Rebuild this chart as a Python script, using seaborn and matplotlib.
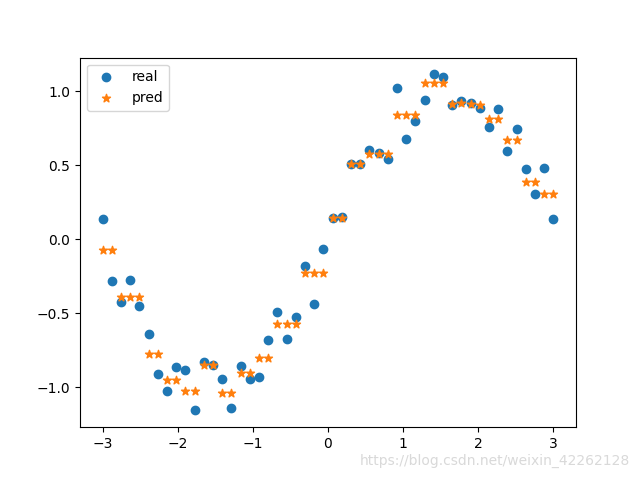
import numpy as np
import pandas as pd
import matplotlib
matplotlib.use("Agg")
import matplotlib.pyplot as plt
import seaborn as sns

x_vals = np.linspace(-3, 3, 50)

real = [0.14, -0.284, -0.42, -0.277, -0.453, -0.642, -0.912, -1.027, -0.865, -0.88,
        -1.155, -0.831, -0.851, -0.946, -1.142, -0.857, -0.942, -0.926, -0.682, -0.493,
        -0.676, -0.527, -0.182, -0.433, -0.062, 0.144, 0.15, 0.513, 0.509, 0.606,
        0.581, 0.545, 1.025, 0.68, 0.802, 0.939, 1.115, 1.10, 0.905, 0.932,
        0.925, 0.885, 0.757, 0.878, 0.60, 0.743, 0.473, 0.304, 0.48, 0.14]

pred = [-0.07, -0.07, -0.387, -0.387, -0.387, -0.777, -0.777, -0.948, -0.948, -1.022,
        -1.022, -0.845, -0.845, -1.04, -1.04, -0.899, -0.899, -0.804, -0.804, -0.568,
        -0.568, -0.568, -0.23, -0.23, -0.23, 0.147, 0.147, 0.511, 0.511, 0.574,
        0.574, 0.574, 0.838, 0.838, 0.838, 1.054, 1.054, 1.054, 0.918, 0.92,
        0.918, 0.91, 0.815, 0.815, 0.673, 0.673, 0.387, 0.387, 0.309, 0.309]

df = pd.DataFrame({"x": x_vals, "real": real, "pred": pred})

fig, ax = plt.subplots(figsize=(6.4, 4.8), dpi=100)
sns.scatterplot(data=df, x="x", y="real", ax=ax, color="C0", s=36, linewidth=1,
                edgecolor="C0", marker="o", label="real")
sns.scatterplot(data=df, x="x", y="pred", ax=ax, color="C1", s=36, linewidth=1,
                edgecolor="C1", marker="*", label="pred")
ax.set_xlabel("")
ax.set_ylabel("")
ax.set_xticks([-3, -2, -1, 0, 1, 2, 3])
ax.set_yticks([-1.0, -0.5, 0.0, 0.5, 1.0])
ax.legend(loc="upper left")
fig.text(0.985, 0.025, "https://blog.csdn.net/weixin_42262128", ha="right", va="bottom",
         color="#d9d9d9", fontsize=10)
fig.savefig("out.png", dpi=100)
